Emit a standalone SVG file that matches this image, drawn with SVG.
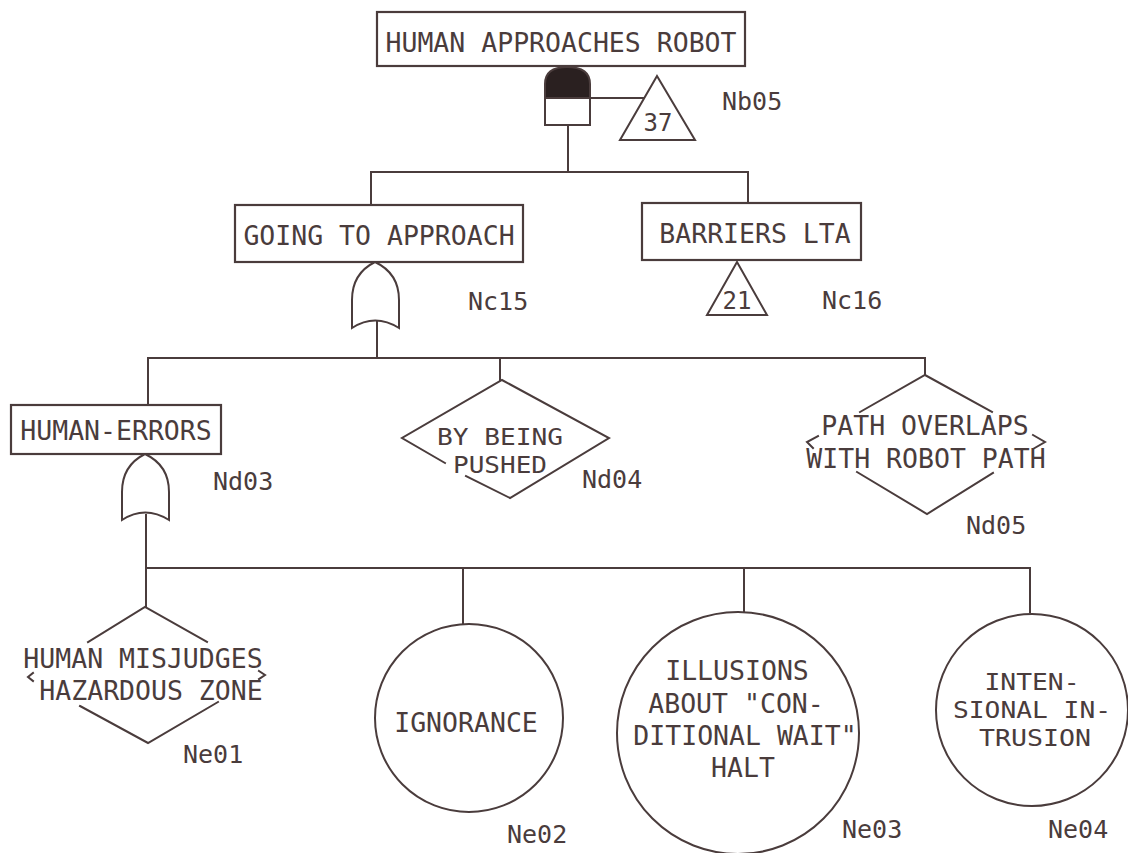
<svg xmlns="http://www.w3.org/2000/svg" width="1128" height="853" viewBox="0 0 1128 853">
  <style>
    .ln { fill: none; stroke: #4a3c3c; stroke-width: 2; stroke-linecap: square; stroke-linejoin: miter; }
    .box { fill: #ffffff; stroke: #4a3c3c; stroke-width: 2.2; }
    .shape { fill: #ffffff; stroke: #4a3c3c; stroke-width: 2; }
    .t { font-family: "DejaVu Sans Mono", "Liberation Mono", monospace; font-size: 26.5px; fill: #4a3c3c; text-anchor: middle; }
    .tc { font-family: "DejaVu Sans Mono", "Liberation Mono", monospace; font-size: 23.5px; fill: #4a3c3c; text-anchor: middle; }
    .id { font-family: "DejaVu Sans Mono", "Liberation Mono", monospace; font-size: 25px; fill: #4a3c3c; }
    .num { font-family: "DejaVu Sans Mono", "Liberation Mono", monospace; font-size: 24px; fill: #4a3c3c; text-anchor: middle; }
  </style>
  <defs>
    <!-- OR gate outline, apex at origin -->
    <path id="orGate" d="M0,0 C-16,8 -23,22 -23,38 L-23,66 Q0,51 24,66 L24,38 C24,22 17,8 0,0 Z"/>
  </defs>
  <rect width="1128" height="853" fill="#ffffff"/>

  <!-- connectors -->
  <g id="connectors" class="ln">
    <line x1="568" y1="125" x2="568" y2="172"/>
    <line x1="590" y1="98" x2="647" y2="98"/>
    <polyline points="371,205 371,172 748,172 748,203"/>
    <line x1="377" y1="320" x2="377" y2="358"/>
    <line x1="148" y1="358" x2="925" y2="358"/>
    <line x1="148" y1="358" x2="148" y2="405"/>
    <line x1="500" y1="358" x2="500" y2="380"/>
    <line x1="925" y1="358" x2="925" y2="375"/>
    <line x1="146" y1="515" x2="146" y2="568"/>
    <line x1="146" y1="568" x2="1030" y2="568"/>
    <line x1="146" y1="568" x2="146" y2="607"/>
    <line x1="463" y1="568" x2="463" y2="624"/>
    <line x1="744" y1="568" x2="744" y2="613"/>
    <line x1="1030" y1="568" x2="1030" y2="612"/>
  </g>

  <!-- top event -->
  <g id="top-event">
    <rect class="box" x="377" y="12" width="368" height="54"/>
    <text class="t" x="561" y="52">HUMAN APPROACHES ROBOT</text>
  </g>

  <!-- gate under top event -->
  <g id="gate-nb05">
    <path d="M545,98 L545,84 Q545,67 567,67 Q590,67 590,84 L590,98 Z" fill="#2a2020" stroke="#4a3c3c" stroke-width="2"/>
    <rect class="shape" x="545" y="98" width="45" height="27"/>
    <text class="id" x="722" y="110">Nb05</text>
  </g>

  <g id="transfer-37">
    <polygon class="shape" points="657,76 695,140 620,140"/>
    <text class="num" x="658" y="131">37</text>
  </g>

  <!-- second level -->
  <g id="going-to-approach">
    <rect class="box" x="235" y="205" width="288" height="57"/>
    <text class="t" x="379" y="245">GOING TO APPROACH</text>
  </g>
  <g id="gate-nc15">
    <use href="#orGate" x="375" y="262" class="shape"/>
    <text class="id" x="468" y="310">Nc15</text>
  </g>

  <g id="barriers-lta">
    <rect class="box" x="642" y="203" width="219" height="57"/>
    <text class="t" x="755" y="243">BARRIERS LTA</text>
  </g>
  <g id="transfer-21">
    <polygon class="shape" points="737,262 767,315 707,315"/>
    <text class="num" x="737" y="309">21</text>
    <text class="id" x="822" y="309">Nc16</text>
  </g>

  <!-- third level -->
  <g id="human-errors">
    <rect class="box" x="11" y="405" width="210" height="49"/>
    <text class="t" x="116" y="440">HUMAN-ERRORS</text>
  </g>
  <g id="gate-nd03">
    <use href="#orGate" x="145" y="454" class="shape"/>
    <text class="id" x="213" y="490">Nd03</text>
  </g>

  <g id="by-being-pushed">
    <path class="ln" d="M445,463 L402,438 L502,380 L609,438 L510,498 L466,476"/>
    <text class="tc" x="500" y="445" textLength="126" lengthAdjust="spacingAndGlyphs">BY BEING</text>
    <text class="tc" x="500" y="473" textLength="94" lengthAdjust="spacingAndGlyphs">PUSHED</text>
    <text class="id" x="582" y="488">Nd04</text>
  </g>

  <g id="path-overlaps">
    <path class="ln" d="M860,412 L925,375 L992,412"/>
    <path class="ln" d="M818,436 L807,442 L813,448"/>
    <path class="ln" d="M1033,435 L1045,442 L1033,449"/>
    <path class="ln" d="M857,472 L927,514 L993,473"/>
    <text class="t" x="925" y="435">PATH OVERLAPS</text>
    <text class="t" x="926" y="468">WITH ROBOT PATH</text>
    <text class="id" x="966" y="534">Nd05</text>
  </g>

  <!-- basic events -->
  <g id="human-misjudges">
    <path class="ln" d="M88,642 L145,607 L207,642"/>
    <path class="ln" d="M33,673 L28,677 L33,681"/>
    <path class="ln" d="M259,671 L265,675 L259,679"/>
    <path class="ln" d="M80,706 L148,743 L218,702"/>
    <text class="t" x="143" y="668">HUMAN MISJUDGES</text>
    <text class="t" x="151" y="700">HAZARDOUS ZONE</text>
    <text class="id" x="183" y="763">Ne01</text>
  </g>

  <g id="ignorance">
    <circle class="shape" cx="469" cy="718" r="94"/>
    <text class="t" x="466" y="732">IGNORANCE</text>
    <text class="id" x="507" y="843">Ne02</text>
  </g>

  <g id="illusions">
    <circle class="shape" cx="738" cy="733" r="121"/>
    <text class="t" x="737" y="680">ILLUSIONS</text>
    <text class="t" x="736" y="713">ABOUT "CON-</text>
    <text class="t" x="745" y="745">DITIONAL WAIT"</text>
    <text class="t" x="743" y="777">HALT</text>
    <text class="id" x="842" y="838">Ne03</text>
  </g>

  <g id="intensional-intrusion">
    <circle class="shape" cx="1032" cy="710" r="96"/>
    <text class="tc" x="1032" y="690" textLength="95" lengthAdjust="spacingAndGlyphs">INTEN-</text>
    <text class="tc" x="1032" y="718" textLength="158" lengthAdjust="spacingAndGlyphs">SIONAL IN-</text>
    <text class="tc" x="1035" y="746" textLength="112" lengthAdjust="spacingAndGlyphs">TRUSION</text>
    <text class="id" x="1048" y="838">Ne04</text>
  </g>
</svg>
